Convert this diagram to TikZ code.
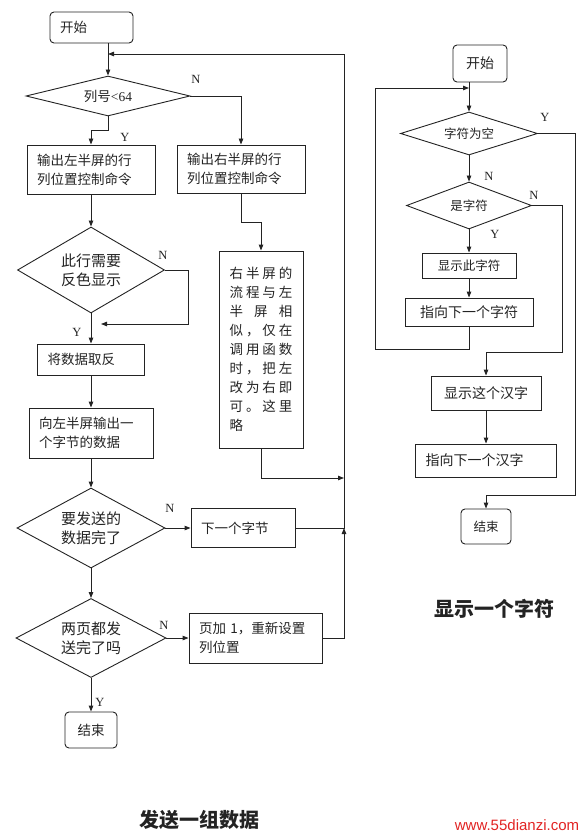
\documentclass[tikz,border=0pt]{standalone}
\usepackage{fontspec}
\setmainfont{Noto Sans CJK SC}
\newfontfamily\lat{Liberation Serif}
\newfontfamily\web{Liberation Sans}
\usepackage{tikz}
\usetikzlibrary{positioning,arrows.meta,shapes.geometric}
\definecolor{cline}{RGB}{35,35,35}
\definecolor{cweb}{RGB}{225,35,35}
\newcommand\boxfont{\fontsize{13.5}{19}\selectfont}
\newcommand\decfont{\fontsize{15}{19}\selectfont}
\newcommand\smallfont{\fontsize{12.5}{15}\selectfont}
\newcommand\midfont{\fontsize{14}{16}\selectfont}
\newcommand\capfont{\bfseries\fontsize{20}{20}\selectfont}
\setlength{\parindent}{0pt}

\begin{document}
\begin{tikzpicture}[x=1pt,y=-1pt,
  color=cline, line width=0.9pt,
  term/.style={draw,rounded corners=4pt,inner sep=0pt,font=\boxfont},
  proc/.style={draw,align=left,inner xsep=10pt,inner ysep=0pt,font=\boxfont},
  dec/.style={diamond,draw,aspect=2,inner sep=0pt,align=center,font=\decfont},
  arr/.style={-{Triangle[length=6pt,width=4.5pt]},line width=0.9pt},
  lbl/.style={font=\lat\fontsize{12.5}{13}\selectfont},
]
\useasboundingbox (0,0) rectangle (587,837);

% Send a group of data
\node[term,text width=63pt,inner xsep=10pt,align=left,minimum height=31pt] (start1) at (91.5,27.5) {开始};
\node[dec,minimum width=164pt,minimum height=40pt,font=\boxfont] (dec1) at (108,96) {列号{\lat <64}};
\node[proc,text width=108pt,minimum height=49pt] (boxL) at (91,169.5) {输出左半屏的行\\列位置控制命令};
\node[proc,text width=108pt,minimum height=48pt] (boxR) at (241,169) {输出右半屏的行\\列位置控制命令};
\node[dec,minimum width=147pt,minimum height=86pt] (dec2) at (91,270) {此行需要\\反色显示};
\node[proc,text width=63pt,inner xsep=10.5pt,minimum height=197pt] (note) at (261,349.5)
  {右\hfill 半\hfill 屏\hfill 的\\流\hfill 程\hfill 与\hfill 左\\半\hfill 屏\hfill 相\\似\hfill ，\hfill 仅\hfill 在\\调\hfill 用\hfill 函\hfill 数\\时\hfill ，\hfill 把\hfill 左\\改\hfill 为\hfill 右\hfill 即\\可\hfill 。\hfill 这\hfill 里\\略};
\node[proc,text width=87pt,minimum height=31pt] (inv) at (91,359.5) {将数据取反};
\node[proc,text width=104pt,minimum height=50pt] (out) at (91,433) {向左半屏输出一\\个字节的数据};
\node[dec,minimum width=148pt,minimum height=80pt] (dec3) at (91,528) {要发送的\\数据完了};
\node[proc,text width=84pt,minimum height=39pt] (next) at (243,528) {下一个字节};
\node[dec,minimum width=150pt,minimum height=79pt] (dec4) at (91,638) {两页都发\\送完了吗};
\node[proc,text width=113pt,minimum height=50pt] (page) at (255.5,638) {页加 1，重新设置\\列位置};
\node[term,minimum width=52pt,minimum height=36pt] (end1) at (91,730) {结束};

\coordinate (jT) at (344,54); \coordinate (jM) at (344,528); \coordinate (jN) at (344,478);
\coordinate (jInv) at (101,324);

\draw[arr] (start1.south -| dec1.north) -- (dec1.north);
\draw[arr] (dec1.south) -- ++(0,14) -| (boxL.north);
\draw[arr] (dec1.east) -| (boxR.north);
\draw[arr] (boxL) -- (dec2);
\draw[arr] (boxR.south) -- ++(0,29) -| (note.north);
\draw[arr] (dec2.east) -- ++(23,0) |- (jInv);
\draw[arr] (dec2) -- (inv);
\draw[arr] (inv) -- (out);
\draw[arr] (out) -- (dec3);
\draw[arr] (dec3) -- (next);
\draw[arr] (dec3) -- (dec4);
\draw[arr] (dec4) -- (page);
\draw[arr] (dec4) -- (end1);
\draw[arr] (next.east) -- (jM) -- (jT) -- (jT -| dec1.north);
\draw[arr] (page.east) -| (jM);
\draw[arr] (note.south) |- (jN);

\node[lbl] (n1) at (196,79) {N}; \node[lbl] (y1) at (125,137) {Y};
\node[lbl] (n2) at (163,255) {N}; \node[lbl] (y2) at (77,332) {Y};
\node[lbl] (n3) at (170,508) {N}; \node[lbl] (n4) at (164,625) {N};
\node[lbl] (y3) at (100,702) {Y};

% Show one character
\node[term,minimum width=54pt,minimum height=37pt,font=\midfont] (start2) at (480,63.5) {开始};
\node[dec,minimum width=137pt,minimum height=43pt,font=\smallfont] (dec5) at (469,133.5) {字符为空};
\node[dec,minimum width=125pt,minimum height=47pt,font=\smallfont] (dec6) at (469,205.5) {是字符};
\node[proc,minimum width=94pt,minimum height=25pt,font=\smallfont] (show) at (469,265.5) {显示此字符};
\node[proc,minimum width=128pt,minimum height=28pt,font=\midfont] (ptr) at (469,312) {指向下一个字符};
\node[proc,minimum width=110pt,minimum height=34pt,font=\midfont] (han) at (486,393) {显示这个汉字};
\node[proc,text width=121pt,minimum height=33pt,font=\midfont] (ptr2) at (486,460.5) {指向下一个汉字};
\node[term,minimum width=50pt,minimum height=35pt,font=\smallfont] (end2) at (486,526.5) {结束};

\coordinate (lpB) at (375,349); \coordinate (lpT) at (375,88);
\coordinate (yR) at (575,495); \coordinate (nR) at (562,352);

\draw[arr] (start2.south -| dec5.north) -- (dec5.north);
\draw[arr] (dec5) -- (dec6);
\draw[arr] (dec6) -- (show);
\draw[arr] (show) -- (ptr);
\draw[arr] (ptr.south) |- (lpB) -- (lpT) -- (lpT -| dec5.north);
\draw[arr] (dec5.east) -| (yR) -| (end2.north);
\draw[arr] (dec6.east) -| (nR) -| (han.north);
\draw[arr] (han) -- (ptr2);

\node[lbl] (y5) at (545,117) {Y}; \node[lbl] (n5) at (489,176) {N};
\node[lbl] (n6) at (534,195) {N}; \node[lbl] (y6) at (495,234) {Y};

% Captions
\node[font=\capfont] (cap1) at (199,820) {发送一组数据};
\node[font=\capfont] (cap2) at (494,609) {显示一个字符};
\node[font=\web\fontsize{15}{15}\selectfont,text=cweb] (site) at (517,825) {www.55dianzi.com};
\end{tikzpicture}
\end{document}
